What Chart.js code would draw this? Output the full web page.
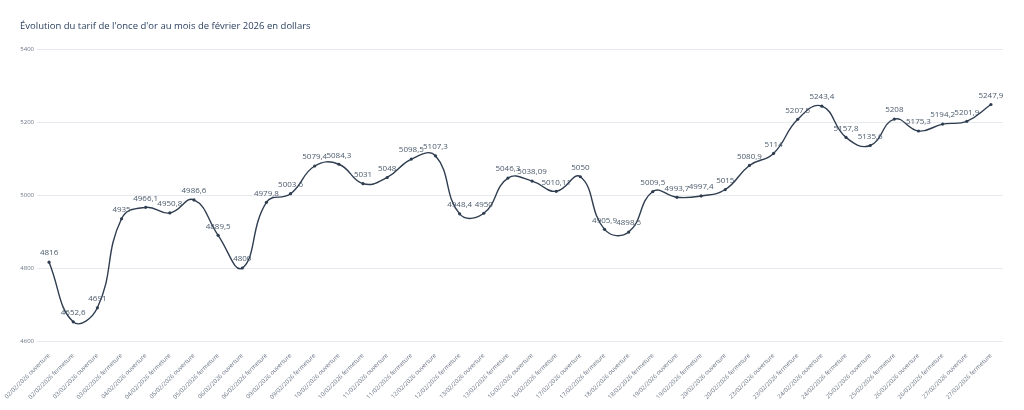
<!DOCTYPE html>
<html lang="fr">
<head>
<meta charset="utf-8">
<title>Once d'or février 2026</title>
<script src="https://cdn.jsdelivr.net/npm/chart.js@4"></script>
<style>
  html, body { margin: 0; padding: 0; background: #fff; }
  #wrap { width: 1024px; height: 410px; position: relative; }
</style>
</head>
<body>
<div id="wrap"><canvas id="gold"></canvas></div>
<script>
// ---------------------------------------------
// Data
// ---------------------------------------------
const days = [
  '02/02/2026', '03/02/2026', '04/02/2026', '05/02/2026', '06/02/2026',
  '09/02/2026', '10/02/2026', '11/02/2026', '12/02/2026', '13/02/2026',
  '16/02/2026', '17/02/2026', '18/02/2026', '19/02/2026', '20/02/2026',
  '23/02/2026', '24/02/2026', '25/02/2026', '26/02/2026', '27/02/2026',
];
const sessions = ['ouverture', 'fermeture'];

const labels = days.flatMap(d => sessions.map(s => d + ' ' + s));

const prices = [
  4816, 4652.6, 4691, 4935, 4966.1, 4950.8, 4986.6, 4889.5, 4800, 4979.8,
  5003.6, 5079.4, 5084.3, 5031, 5048, 5098.5, 5107.3, 4948.4, 4950, 5046.3,
  5038.09, 5010.11, 5050, 4905.9, 4898.5, 5009.5, 4993.7, 4997.4, 5015, 5080.9,
  5114, 5207.5, 5243.4, 5157.8, 5135.6, 5208, 5175.3, 5194.2, 5201.9, 5247.9,
];

const yTicks = [4600, 4800, 5000, 5200, 5400];

const fontFamily = "'Open Sans', 'Noto Sans', sans-serif";

// text above each point, french decimal comma
const pointLabels = {
  id: 'pointLabels',
  afterDatasetsDraw(chart) {
    const ctx = chart.ctx;
    const meta = chart.getDatasetMeta(0);
    const values = chart.data.datasets[0].data;
    ctx.save();
    ctx.font = '8px ' + fontFamily;
    ctx.fillStyle = '#4b5a6b';
    ctx.textAlign = 'center';
    ctx.textBaseline = 'bottom';
    meta.data.forEach((pt, i) => {
      ctx.fillText(String(values[i]).replace('.', ','), pt.x, pt.y - 5);
    });
    ctx.restore();
  },
};

new Chart(document.getElementById('gold'), {
  type: 'line',
  data: {
    labels,
    datasets: [{
      data: prices,
      borderColor: '#2f3d50',
      borderWidth: 1.4,
      tension: 0.45,
      pointRadius: 1.6,
      pointBackgroundColor: '#2f3d50',
      pointBorderWidth: 0,
      fill: false,
    }],
  },
  options: {
    responsive: true,
    maintainAspectRatio: false,
    animation: false,
    layout: { padding: { left: 20, right: 21, top: 0, bottom: 0 } },
    plugins: {
      legend: { display: false },
      tooltip: { enabled: false },
      title: {
        display: true,
        text: "Évolution du tarif de l'once d'or au mois de février 2026 en dollars",
        align: 'start',
        color: '#2a3f5f',
        font: { family: fontFamily, size: 9.5, weight: 'normal' },
        padding: { top: 21, bottom: 16.6 },
      },
    },
    scales: {
      x: {
        offset: true,
        grid: { display: false },
        border: { display: false },
        ticks: {
          autoSkip: false,
          minRotation: 45,
          maxRotation: 45,
          padding: 3,
          color: '#6b7585',
          font: { family: fontFamily, size: 6 },
        },
        afterFit(scale) { scale.height = 69; },
      },
      y: {
        min: 4600,
        max: 5400,
        afterBuildTicks(scale) { scale.ticks = yTicks.map(v => ({ value: v })); },
        grid: { color: '#e6e9ee', drawTicks: false, lineWidth: 1 },
        border: { display: false },
        ticks: {
          padding: 3,
          color: '#6b7585',
          font: { family: fontFamily, size: 6 },
          callback: v => String(v),
        },
        afterFit(scale) { scale.width = 17; },
      },
    },
  },
  plugins: [pointLabels],
});
</script>
</body>
</html>
